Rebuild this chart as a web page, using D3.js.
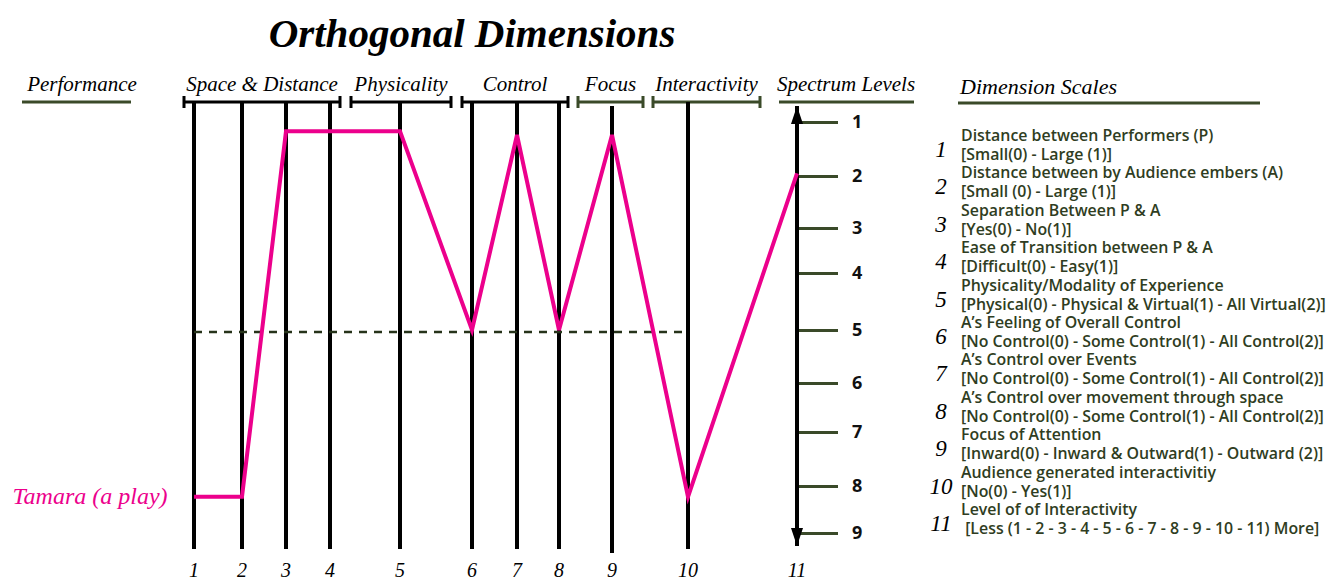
<!DOCTYPE html>
<html>
<head>
<meta charset="utf-8">
<script src="https://cdn.jsdelivr.net/npm/d3@7"></script>
<style>
  body { margin: 0; background: #ffffff; }
  #chart_div { width: 1335px; height: 580px; }
  .script { font-family: "Liberation Serif", "DejaVu Serif", serif; font-style: italic; }
  .legend { font-family: "Open Sans", "Noto Sans", sans-serif; font-weight: 600; }
</style>
</head>
<body>
<div id="chart_div"></div>
<div id="chart_err"></div>
<script>
// Chart values
var dimensionIds = [1, 2, 3, 4, 5, 6, 7, 8, 9, 10, 11];
var spectrumLevels = [1, 2, 3, 4, 5, 6, 7, 8, 9];
var groupNames = ["Space & Distance", "Physicality", "Control", "Focus", "Interactivity"];
var groupFirstDim = [1, 5, 6, 9, 10];
var groupLastDim = [4, 5, 8, 9, 10];
var performanceName = "Tamara (a play)";
var tamaraLevels = [8.23, 8.23, 1.17, 1.17, 1.17, 5, 1.24, 5, 1.24, 8.23, 1.95];
var midLevel = 5;
var scaleTitles = [
  "Distance between Performers (P)",
  "Distance between by Audience embers (A)",
  "Separation Between P & A",
  "Ease of Transition between P & A",
  "Physicality/Modality of Experience",
  "A\u2019s Feeling of Overall Control",
  "A\u2019s Control over Events",
  "A\u2019s Control over movement through space",
  "Focus of Attention",
  "Audience generated interactivitiy",
  "Level of of Interactivity"
];
var scaleRanges = [
  "[Small(0) - Large (1)]",
  "[Small (0) - Large (1)]",
  "[Yes(0) - No(1)]",
  "[Difficult(0) - Easy(1)]",
  "[Physical(0) - Physical & Virtual(1) - All Virtual(2)]",
  "[No Control(0) - Some Control(1) - All Control(2)]",
  "[No Control(0) - Some Control(1) - All Control(2)]",
  "[No Control(0) - Some Control(1) - All Control(2)]",
  "[Inward(0) - Inward & Outward(1) - Outward (2)]",
  "[No(0) - Yes(1)]",
  " [Less (1 - 2 - 3 - 4 - 5 - 6 - 7 - 8 - 9 - 10 - 11) More]"
];

var ru = (function (d3, ru) {
  "use strict";

  ru.ortho = (function (d3) {
    var loc_divErr = "chart_err",
        loc_pink = "#ec008c",
        loc_green = "#3a4a29",
        loc_text = "#2f3d22";

    // Private methods
    var private_methods = {
      errMsg: function (sMsg, ex) {
        d3.select("#" + loc_divErr).html("Error in [" + sMsg + "]<br>" + ex.message);
      },
      arrowMarker: function (defs, sId, bUp) {
        defs.append("marker")
          .attr("id", sId)
          .attr("viewBox", "0 0 12 18")
          .attr("refX", 6).attr("refY", bUp ? 0 : 18)
          .attr("markerWidth", 12).attr("markerHeight", 18)
          .attr("markerUnits", "userSpaceOnUse")
          .attr("orient", 0)
          .append("path")
          .attr("d", bUp ? "M6,0 L12,18 L0,18 Z" : "M0,0 L12,0 L6,18 Z")
          .attr("fill", "#000");
      }
    };

    // Public methods
    return {
      draw: function (sDiv) {
        var svg = null,
            x = null,
            y = null,
            line = null,
            yAxis = null,
            gAxis = null,
            iBracketY = 102;

        try {
          svg = d3.select(sDiv).append("svg")
                  .attr("width", 1335)
                  .attr("height", 580);
          var defs = svg.append("defs");
          private_methods.arrowMarker(defs, "arrowUp", true);
          private_methods.arrowMarker(defs, "arrowDown", false);

          // Scales: dimensions and levels sit at uneven spacing
          x = d3.scaleLinear()
                .domain(dimensionIds)
                .range([194, 242, 286, 330, 400, 472, 517, 559, 612, 688, 797]);
          y = d3.scaleLinear()
                .domain(spectrumLevels)
                .range([122, 176, 228, 273, 330, 383, 432, 486, 533]);

          // Title
          svg.append("text").attr("class", "script")
            .attr("x", 472).attr("y", 47)
            .attr("text-anchor", "middle")
            .attr("font-size", 41).attr("font-weight", "bold")
            .text("Orthogonal Dimensions");

          // Performance header
          svg.append("text").attr("class", "script")
            .attr("x", 82).attr("y", 91).attr("text-anchor", "middle")
            .attr("font-size", 21)
            .text("Performance");
          svg.append("line")
            .attr("x1", 22).attr("x2", 131).attr("y1", iBracketY).attr("y2", iBracketY)
            .attr("stroke", loc_green).attr("stroke-width", 3);

          // Group brackets
          var bracketLeft = [184, 351, 462, 578, 653],
              bracketRight = [340, 451, 568, 643, 760],
              bracketColor = ["#000", "#000", "#000", loc_green, loc_green];
          var gGroups = svg.append("g").selectAll("g")
            .data(groupNames).enter().append("g");
          gGroups.append("path")
            .attr("d", function (d, i) {
              var l = bracketLeft[i], r = bracketRight[i];
              return "M" + l + "," + (iBracketY - 6) + "V" + (iBracketY + 6) +
                     "M" + l + "," + iBracketY + "H" + r +
                     "M" + r + "," + (iBracketY - 6) + "V" + (iBracketY + 6);
            })
            .attr("fill", "none")
            .attr("stroke", function (d, i) { return bracketColor[i]; })
            .attr("stroke-width", 3);
          gGroups.append("text").attr("class", "script")
            .attr("x", function (d, i) { return (bracketLeft[i] + bracketRight[i]) / 2; })
            .attr("y", 91).attr("text-anchor", "middle")
            .attr("font-size", 21)
            .text(function (d) { return d; });

          // Spectrum header
          svg.append("text").attr("class", "script")
            .attr("x", 846).attr("y", 91).attr("text-anchor", "middle")
            .attr("font-size", 21)
            .text("Spectrum Levels");
          svg.append("line")
            .attr("x1", 779).attr("x2", 914).attr("y1", iBracketY).attr("y2", iBracketY)
            .attr("stroke", loc_green).attr("stroke-width", 3);

          // Dimension axes (1..10)
          svg.append("g").selectAll("line")
            .data(dimensionIds.slice(0, 10)).enter().append("line")
            .attr("x1", function (d) { return x(d); })
            .attr("x2", function (d) { return x(d); })
            .attr("y1", function (d) { return d === 9 ? iBracketY + 4 : iBracketY; })
            .attr("y2", function (d) { return d === 9 ? 553 : 549; })
            .attr("stroke", "#000").attr("stroke-width", 4);

          // Dashed mid line
          svg.append("line")
            .attr("x1", x(1)).attr("x2", x(10))
            .attr("y1", y(midLevel) + 2).attr("y2", y(midLevel) + 2)
            .attr("stroke", "#26331a").attr("stroke-width", 2.5)
            .attr("stroke-dasharray", "8,7");

          // Spectrum axis
          yAxis = d3.axisRight(y).tickValues(spectrumLevels).tickSize(41).tickPadding(14);
          gAxis = svg.append("g")
            .attr("transform", "translate(" + x(11) + ",0)")
            .call(yAxis);
          gAxis.select(".domain").remove();
          gAxis.selectAll(".tick line").attr("stroke", loc_green).attr("stroke-width", 3);
          gAxis.selectAll(".tick text")
            .attr("fill", "#111")
            .attr("font-family", "'Open Sans', sans-serif")
            .attr("font-weight", "bold")
            .attr("font-size", 18);
          svg.append("line")
            .attr("x1", x(11)).attr("x2", x(11))
            .attr("y1", 106).attr("y2", 546)
            .attr("stroke", "#000").attr("stroke-width", 4)
            .attr("marker-start", "url(#arrowUp)")
            .attr("marker-end", "url(#arrowDown)");

          // Bottom dimension numbers
          svg.append("g").selectAll("text")
            .data(dimensionIds).enter().append("text")
            .attr("class", "script")
            .attr("x", function (d) { return x(d); })
            .attr("y", 577).attr("text-anchor", "middle")
            .attr("font-size", 20)
            .text(function (d) { return d; });

          // Performance profile
          line = d3.line()
            .x(function (d, i) { return x(dimensionIds[i]); })
            .y(function (d) { return y(d); });
          svg.append("path")
            .datum(tamaraLevels)
            .attr("d", line)
            .attr("fill", "none")
            .attr("stroke", loc_pink)
            .attr("stroke-width", 4)
            .attr("stroke-linejoin", "miter");
          svg.append("text").attr("class", "script")
            .attr("x", 90).attr("y", y(tamaraLevels[0]) + 7)
            .attr("text-anchor", "middle")
            .attr("font-size", 24)
            .attr("fill", loc_pink)
            .text(performanceName);

          // Dimension scales legend
          svg.append("text").attr("class", "script")
            .attr("x", 960).attr("y", 94)
            .attr("font-size", 22)
            .text("Dimension Scales");
          svg.append("line")
            .attr("x1", 958).attr("x2", 1260).attr("y1", iBracketY + 1).attr("y2", iBracketY + 1)
            .attr("stroke", loc_green).attr("stroke-width", 3);

          var gItems = svg.append("g").selectAll("g")
            .data(scaleTitles).enter().append("g")
            .attr("transform", function (d, i) { return "translate(0," + (141 + i * 37.4) + ")"; });
          gItems.append("text").attr("class", "script")
            .attr("x", 941).attr("y", 16).attr("text-anchor", "middle")
            .attr("font-size", 23)
            .text(function (d, i) { return dimensionIds[i]; });
          gItems.append("text").attr("class", "legend")
            .attr("x", 961).attr("y", 0)
            .attr("font-size", 15.9).attr("fill", loc_text)
            .text(function (d) { return d; });
          gItems.append("text").attr("class", "legend")
            .attr("x", 961).attr("y", 19)
            .attr("font-size", 15.9).attr("fill", loc_text)
            .attr("xml:space", "preserve")
            .text(function (d, i) { return scaleRanges[i]; });
        } catch (ex) {
          private_methods.errMsg("draw", ex);
        }
      }
    };
  }(d3));

  return ru;
}(d3, window.ru || {}));

ru.ortho.draw("#chart_div");
</script>
</body>
</html>
